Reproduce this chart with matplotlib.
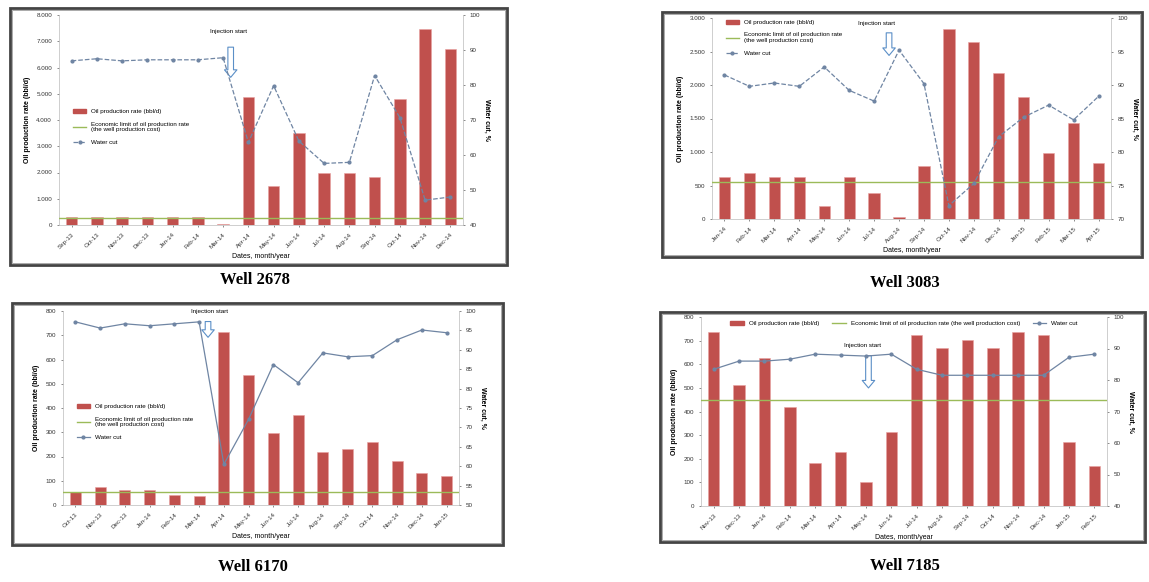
import matplotlib
matplotlib.use('Agg')
import matplotlib.pyplot as plt
from matplotlib.patches import Rectangle
from matplotlib.ticker import FuncFormatter

plt.rcParams['font.family'] = ['Liberation Sans', 'DejaVu Sans']

# datos (16 meses por pozo)
months_2678 = ['Sep-13', 'Oct-13', 'Nov-13', 'Dec-13', 'Jan-14', 'Feb-14', 'Mar-14', 'Apr-14',
               'May-14', 'Jun-14', 'Jul-14', 'Aug-14', 'Sep-14', 'Oct-14', 'Nov-14', 'Dec-14']
oil_2678 = [300, 290, 300, 290, 300, 290, 50, 4880, 1490, 3500, 1980, 2000, 1830, 4800, 7470, 6700]
wcut_2678 = [86.9, 87.5, 86.9, 87.2, 87.2, 87.2, 87.8, 63.6, 79.8, 64.0, 57.6, 57.9, 82.7, 70.7, 47.1, 48.0]
limit_2678 = 270

months_3083 = ['Jan-14', 'Feb-14', 'Mar-14', 'Apr-14', 'May-14', 'Jun-14', 'Jul-14', 'Aug-14',
               'Sep-14', 'Oct-14', 'Nov-14', 'Dec-14', 'Jan-15', 'Feb-15', 'Mar-15', 'Apr-15']
oil_3083 = [630, 690, 630, 630, 190, 630, 390, 30, 790, 2840, 2640, 2180, 1820, 990, 1430, 840]
wcut_3083 = [91.5, 89.8, 90.3, 89.8, 92.7, 89.2, 87.6, 95.2, 90.2, 72.0, 75.3, 82.3, 85.2, 87.0, 84.8, 88.3]
limit_3083 = 550

months_6170 = ['Oct-13', 'Nov-13', 'Dec-13', 'Jan-14', 'Feb-14', 'Mar-14', 'Apr-14', 'May-14',
               'Jun-14', 'Jul-14', 'Aug-14', 'Sep-14', 'Oct-14', 'Nov-14', 'Dec-14', 'Jan-15']
oil_6170 = [54, 74, 62, 62, 41, 37, 713, 536, 297, 371, 219, 231, 260, 181, 132, 120]
wcut_6170 = [97.2, 95.6, 96.7, 96.2, 96.7, 97.2, 60.5, 72.1, 86.2, 81.5, 89.2, 88.2, 88.5, 92.6, 95.1, 94.4]
limit_6170 = 54

months_7185 = ['Nov-13', 'Dec-13', 'Jan-14', 'Feb-14', 'Mar-14', 'Apr-14', 'May-14', 'Jun-14',
               'Jul-14', 'Aug-14', 'Sep-14', 'Oct-14', 'Nov-14', 'Dec-14', 'Jan-15', 'Feb-15']
oil_7185 = [737, 513, 627, 419, 182, 229, 102, 314, 725, 669, 703, 669, 737, 725, 271, 169]
wcut_7185 = [83.4, 86.0, 86.0, 86.6, 88.2, 87.9, 87.6, 88.2, 83.4, 81.5, 81.5, 81.5, 81.5, 81.5, 87.2, 88.2]
limit_7185 = 450

BAR = '#c0504d'
LIM = '#9bbb59'
WC = '#6f85a3'
fs = 4.5


def miles(v, pos):
    return '{:,.0f}'.format(v).replace(',', '.')


def panel(fig, rect, frame, title, title_xy, months, oil, wcut, limit,
          ymax, ystep, wlo, whi, wstep, arrow, leg, ls='--'):
    ax = fig.add_axes(rect)
    x = list(range(len(months)))
    ax.bar(x, oil, width=0.45, color=BAR, edgecolor='#e8a0a0', linewidth=0.4, zorder=2)
    ax.axhline(limit, color=LIM, lw=1.0, zorder=3, label='lim')
    ax.set_xlim(-0.5, len(months) - 0.5)
    ax.set_ylim(0, ymax)
    ax.set_yticks(range(0, ymax + 1, ystep))
    ax.yaxis.set_major_formatter(FuncFormatter(miles))
    ax.set_xticks(x)
    ax.set_xticklabels(months, rotation=45, ha='right', rotation_mode='anchor')
    ax.tick_params(labelsize=fs, length=1.5, width=0.4, colors='#333333')
    ax.set_ylabel('Oil production rate (bbl/d)', fontsize=fs + 0.5, fontweight='bold')
    ax.set_xlabel('Dates, month/year', fontsize=fs + 0.5, labelpad=2)
    for s in ['top', 'right']:
        ax.spines[s].set_visible(False)
    for s in ['left', 'bottom']:
        ax.spines[s].set_color('#bbbbbb')
        ax.spines[s].set_linewidth(0.5)

    ax2 = ax.twinx()
    ax2.plot(x, wcut, ls=ls, color=WC, lw=0.9, marker='o', ms=2, zorder=4)
    ax2.set_ylim(wlo, whi)
    ax2.set_yticks(range(wlo, whi + 1, wstep))
    ax2.tick_params(labelsize=fs, length=1.5, width=0.4, colors='#333333')
    ax2.set_ylabel('Water cut, %', fontsize=fs + 0.5, fontweight='bold', rotation=270, labelpad=7)
    for s in ['top', 'left', 'bottom']:
        ax2.spines[s].set_visible(False)
    ax2.spines['right'].set_color('#bbbbbb')
    ax2.spines['right'].set_linewidth(0.5)

    # flecha hueca de inicio de inyeccion
    ax_x, y_top, y_bot, tx, ty = arrow
    ax.annotate('', xy=(ax_x, y_bot), xytext=(ax_x, y_top), xycoords=('data', 'axes fraction'),
                arrowprops=dict(arrowstyle='simple,head_length=0.6,head_width=1.0,tail_width=0.45',
                                fc='white', ec='#5b8fc7', lw=0.8, mutation_scale=9), zorder=6)
    ax.text(tx, ty, 'Injection start', transform=ax.get_xaxis_transform(),
            fontsize=fs, ha='center', va='center', zorder=6)

    h1 = Rectangle((0, 0), 1, 1, color=BAR)
    h2 = plt.Line2D([], [], color=LIM, lw=1.0)
    h3 = plt.Line2D([], [], color=WC, ls=ls, lw=0.9, marker='o', ms=2)
    loc, anchor, ncol, lim_label = leg
    ax2.legend([h1, h2, h3], ['Oil production rate (bbl/d)', lim_label, 'Water cut'],
               loc=loc, bbox_to_anchor=anchor, ncol=ncol, frameon=False, fontsize=fs,
               handlelength=2.2, handleheight=0.6, labelspacing=1.2, columnspacing=2.0)

    fig.add_artist(Rectangle((frame[0], frame[1]), frame[2], frame[3], transform=fig.transFigure,
                             fill=False, ec='#444444', lw=2.0))
    fig.add_artist(Rectangle((frame[0] + 0.002, frame[1] + 0.004), frame[2] - 0.004, frame[3] - 0.008,
                             transform=fig.transFigure, fill=False, ec='#888888', lw=0.5))
    fig.text(title_xy[0], title_xy[1], title, fontsize=12, fontweight='bold',
             family='Liberation Serif', ha='center', va='center')
    return ax


W, H = 1149, 582
fig = plt.figure(figsize=(W / 100, H / 100), dpi=100)


def fr(x0, y0, x1, y1):
    return (x0 / W, 1 - y1 / H, (x1 - x0) / W, (y1 - y0) / H)


two = 'Economic limit of oil production rate\n(the well production cost)'
one = 'Economic limit of oil production rate (the well production cost)'

panel(fig, fr(59, 15, 463, 225), fr(10, 8, 507, 265), 'Well 2678', (255 / W, 1 - 280 / H),
      months_2678, oil_2678, wcut_2678, limit_2678, 8000, 1000, 40, 100, 10,
      (6.3, 0.86, 0.69, 6.2, 0.92), ('upper left', (0.02, 0.58), 1, two))
panel(fig, fr(712, 18, 1111, 219), fr(662, 12, 1142, 257), 'Well 3083', (905 / W, 1 - 283 / H),
      months_3083, oil_3083, wcut_3083, limit_3083, 3000, 500, 70, 100, 5,
      (6.6, 0.94, 0.80, 6.1, 0.975), ('upper left', (0.02, 1.02), 1, two))
panel(fig, fr(63, 311, 459, 505), fr(12, 303, 503, 545), 'Well 6170', (253 / W, 1 - 567 / H),
      months_6170, oil_6170, wcut_6170, limit_6170, 800, 100, 50, 100, 5,
      (5.36, 0.96, 0.85, 5.4, 1.0), ('upper left', (0.02, 0.55), 1, two), ls='-')
panel(fig, fr(701, 317, 1107, 506), fr(660, 312, 1145, 542), 'Well 7185', (905 / W, 1 - 566 / H),
      months_7185, oil_7185, wcut_7185, limit_7185, 800, 100, 40, 100, 10,
      (6.1, 0.81, 0.61, 5.85, 0.85), ('upper center', (0.5, 1.01), 3, one), ls='-')

fig.savefig('out.png', dpi=100)
